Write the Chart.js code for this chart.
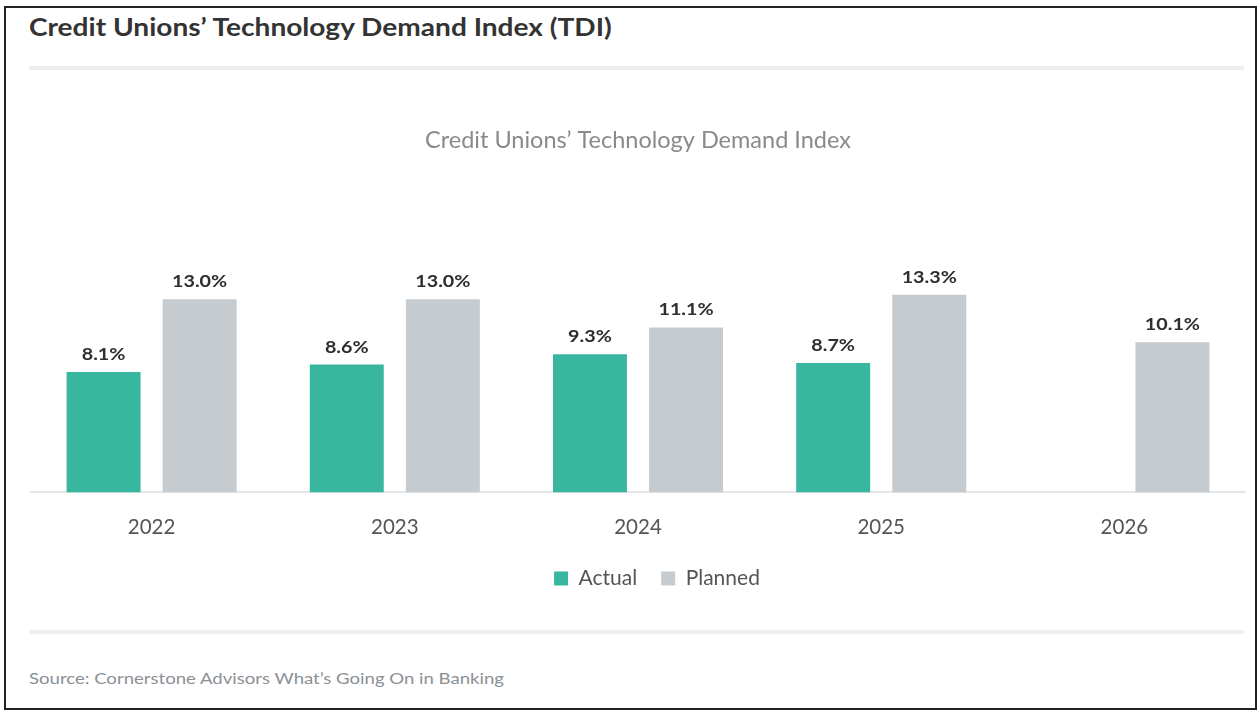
<!DOCTYPE html>
<html>
<head>
<meta charset="utf-8">
<script src="https://cdn.jsdelivr.net/npm/chart.js@4.4.1/dist/chart.umd.min.js"></script>
<style>
  body { margin: 0; background: #fff; font-family: Lato, sans-serif; }
  .frame { position: absolute; left: 4px; top: 6px; width: 1249px; height: 700px; border: 2px solid #222; }
  .head { position: absolute; left: 29px; top: 12px; font-size: 24px; font-weight: bold; color: #333;
          white-space: nowrap; transform: scaleX(1.17); transform-origin: left top; }
  .rule { position: absolute; left: 29px; width: 1215px; height: 4px; background: #eef0f0; }
  .source { position: absolute; left: 29px; top: 668px; font-size: 16px; color: #8b9096;
            white-space: nowrap; transform: scaleX(1.16); transform-origin: left top; }
  .chart-box { position: absolute; left: 30px; top: 110px; width: 1216px; height: 489px; }
</style>
</head>
<body>
<div class="frame"></div>
<div class="head">Credit Unions’ Technology Demand Index (TDI)</div>
<div class="rule" style="top:66px"></div>
<div class="chart-box"><canvas id="tdiChart"></canvas></div>
<div class="rule" style="top:630px"></div>
<div class="source">Source: Cornerstone Advisors What’s Going On in Banking</div>
<script>
// values
const years = ['2022', '2023', '2024', '2025', '2026'];
const actual = [8.1, 8.6, 9.3, 8.7, null];
const planned = [13.0, 13.0, 11.1, 13.3, 10.1];

// draw "x.x%" above each bar (slightly widened, like the source font)
const barLabels = {
    id: 'barLabels',
    afterDatasetsDraw(chart) {
        const ctx = chart.ctx;
        chart.data.datasets.forEach((ds, i) => {
            chart.getDatasetMeta(i).data.forEach((bar, j) => {
                if (ds.data[j] == null) return;
                ctx.save();
                ctx.translate(bar.x, bar.y - 9);
                ctx.scale(1.16, 1);
                ctx.font = 'bold 17px Lato';
                ctx.fillStyle = '#2e2e2e';
                ctx.textAlign = 'center';
                ctx.textBaseline = 'bottom';
                ctx.fillText(ds.data[j].toFixed(1) + '%', 0, 0);
                ctx.restore();
            });
        });
    }
};

// the legend in the source sits a bit right of centre
const nudgeLegend = {
    id: 'nudgeLegend',
    afterLayout(chart) {
        chart.legend.left += 19;
        chart.legend.right += 19;
    }
};

const ctx = document.getElementById('tdiChart').getContext('2d');

new Chart(ctx, {
    type: 'bar',
    data: {
        labels: years,
        datasets: [
            { label: 'Actual', data: actual, backgroundColor: '#38b6a0' },
            { label: 'Planned', data: planned, backgroundColor: '#c6cbcf' }
        ]
    },
    options: {
        responsive: true,
        maintainAspectRatio: false,
        animation: false,
        categoryPercentage: 0.79,
        barPercentage: 0.77,
        layout: { padding: 0 },
        scales: {
            y: { display: false, min: 0, max: 16 },
            x: {
                grid: { display: false, tickLength: 19 },
                border: { display: true, color: '#e6e7e8', width: 2 },
                ticks: { color: '#555', font: { family: 'Lato', size: 20.5 }, padding: 4 }
            }
        },
        plugins: {
            title: {
                display: true,
                text: 'Credit Unions’ Technology Demand Index',
                color: '#8a8a8a',
                font: { family: 'Lato', size: 23.5, weight: 'normal' },
                padding: { top: 16, bottom: 100.4 }
            },
            legend: {
                position: 'bottom',
                labels: {
                    color: '#555',
                    font: { family: 'Lato', size: 21 },
                    boxWidth: 14,
                    boxHeight: 14,
                    padding: 24
                }
            },
            tooltip: { enabled: false }
        }
    },
    plugins: [barLabels, nudgeLegend]
});
</script>
</body>
</html>
